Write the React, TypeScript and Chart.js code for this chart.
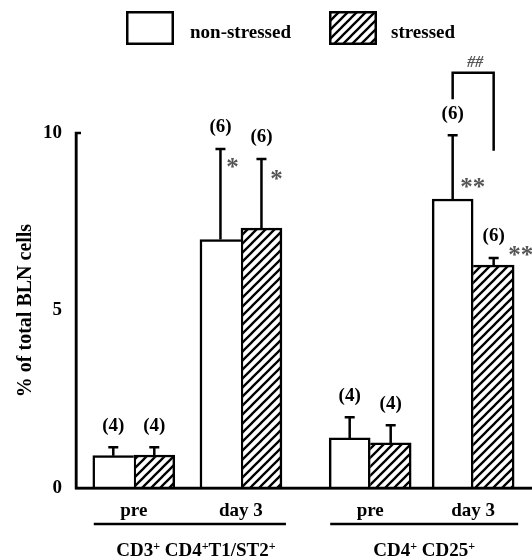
import React, { useEffect, useRef } from "react";
import { Chart, registerables } from "chart.js";

Chart.register(...registerables);

// ---- data ----
const seriesNames = ["non-stressed", "stressed"];
const timeLabels = ["pre", "day 3", "pre", "day 3"];
const groupLabels = ["CD3⁺ CD4⁺T1/ST2⁺", "CD4⁺ CD25⁺"];
const nonStressed = [0.91, 7.0, 1.41, 8.14];
const stressed = [0.93, 7.32, 1.27, 6.28];
const nonStressedErr = [0.24, 2.55, 0.58, 1.8];
const stressedErr = [0.22, 1.95, 0.5, 0.2];
const nonStressedN = ["(4)", "(6)", "(4)", "(6)"];
const stressedN = ["(4)", "(6)", "(4)", "(6)"];
const nonStressedSig = ["", "*", "", "**"];
const stressedSig = ["", "*", "", "**"];
const pairSig = "##";
const yTickValues = [0, 5, 10];
const yTitle = "% of total BLN cells";

// ---- layout ----
const xPositions = [1, 2.02, 3.25, 4.23];
const groupMembers = [
  [0, 1],
  [2, 3],
];
const FONT = '"Liberation Serif", "Times New Roman", serif';
const BW = 2.5;
const sigOffsets = [
  [null, { dx: 12, dy: 14 }, null, { dx: 20, dy: 48 }],
  [null, { dx: 15, dy: 16 }, null, { dx: 27, dy: -7 }],
];

function drawCentered(ctx: CanvasRenderingContext2D, text: string, cx: number, cy: number) {
  ctx.textAlign = "center";
  ctx.textBaseline = "alphabetic";
  const m = ctx.measureText(text);
  const asc = m.actualBoundingBoxAscent;
  const desc = m.actualBoundingBoxDescent;
  ctx.fillText(text, cx, cy + (asc - desc) / 2);
}

function drawRich(ctx: CanvasRenderingContext2D, text: string, cx: number, baseline: number) {
  const runs: { t: string; sup: boolean }[] = [];
  for (const ch of text) {
    const sup = ch === "⁺";
    const t = sup ? "+" : ch;
    const last = runs[runs.length - 1];
    if (last && last.sup === sup) last.t += t;
    else runs.push({ t, sup });
  }
  const normalFont = `bold 19px ${FONT}`;
  const supFont = `bold 12px ${FONT}`;
  let total = 0;
  for (const r of runs) {
    ctx.font = r.sup ? supFont : normalFont;
    total += ctx.measureText(r.t).width;
  }
  let x = cx - total / 2;
  ctx.textAlign = "left";
  ctx.textBaseline = "alphabetic";
  for (const r of runs) {
    ctx.font = r.sup ? supFont : normalFont;
    ctx.fillText(r.t, x, r.sup ? baseline - 6 : baseline);
    x += ctx.measureText(r.t).width;
  }
}

export default function App() {
  const ref = useRef<HTMLCanvasElement | null>(null);

  useEffect(() => {
    const canvas = ref.current;
    if (!canvas) return;
    const ctx0 = canvas.getContext("2d")!;
    const P = 9;
    const tile = document.createElement("canvas");
    tile.width = P;
    tile.height = P;
    const g = tile.getContext("2d")!;
    g.fillStyle = "#fff";
    g.fillRect(0, 0, P, P);
    g.strokeStyle = "#000";
    g.lineWidth = 2.3;
    g.beginPath();
    g.moveTo(-1, P + 1);
    g.lineTo(P + 1, -1);
    g.moveTo(-P / 2 - 1, P / 2 + 1);
    g.lineTo(P / 2 + 1, -P / 2 - 1);
    g.moveTo(P / 2 - 1, P * 1.5 + 1);
    g.lineTo(P * 1.5 + 1, P / 2 - 1);
    g.stroke();
    const hatch = ctx0.createPattern(tile, "repeat")!;

    const annot = {
      id: "annot",
      afterDatasetsDraw(chart: any) {
        const ctx: CanvasRenderingContext2D = chart.ctx;
        const ys = chart.scales.y;
        const area = chart.chartArea;
        ctx.save();
        ctx.strokeStyle = "#000";
        ctx.lineWidth = BW;
        ctx.lineCap = "butt";
        // axes
        ctx.beginPath();
        ctx.moveTo(area.left - BW / 2, area.bottom);
        ctx.lineTo(chart.width, area.bottom);
        ctx.moveTo(area.left, area.bottom);
        ctx.lineTo(area.left, area.top - BW / 2);
        ctx.moveTo(area.left - BW / 2, area.top);
        ctx.lineTo(area.left + 5, area.top);
        ctx.stroke();

        const vals = [nonStressed, stressed];
        const errs = [nonStressedErr, stressedErr];
        const ns = [nonStressedN, stressedN];
        const sigs = [nonStressedSig, stressedSig];
        for (let di = 0; di < 2; di++) {
          const meta = chart.getDatasetMeta(di);
          meta.data.forEach((bar: any, i: number) => {
            const x = bar.x;
            const yTop = bar.y;
            const yErr = ys.getPixelForValue(vals[di][i] + errs[di][i]);
            ctx.strokeStyle = "#000";
            ctx.lineWidth = BW;
            ctx.beginPath();
            ctx.moveTo(x, yTop);
            ctx.lineTo(x, yErr);
            ctx.moveTo(x - 5, yErr);
            ctx.lineTo(x + 5, yErr);
            ctx.stroke();
            ctx.fillStyle = "#000";
            ctx.font = `bold 19px ${FONT}`;
            drawCentered(ctx, ns[di][i], x, yErr - 21);
            const s = sigs[di][i];
            const off = sigOffsets[di][i];
            if (s && off) {
              ctx.fillStyle = "#555";
              ctx.font = `bold 25px ${FONT}`;
              drawCentered(ctx, s, x + off.dx, yErr + off.dy);
            }
          });
        }
        // bracket between the day-3 bars of the second group
        const x0 = chart.getDatasetMeta(0).data[3].x;
        const x1 = chart.getDatasetMeta(1).data[3].x;
        const yb = ys.getPixelForValue(11.7);
        const yl = ys.getPixelForValue(10.95);
        const yr = ys.getPixelForValue(9.5);
        ctx.strokeStyle = "#000";
        ctx.lineWidth = BW;
        ctx.beginPath();
        ctx.moveTo(x0, yl);
        ctx.lineTo(x0, yb);
        ctx.lineTo(x1, yb);
        ctx.lineTo(x1, yr);
        ctx.stroke();
        ctx.fillStyle = "#555";
        ctx.font = `italic bold 16px ${FONT}`;
        drawCentered(ctx, pairSig, (x0 + x1) / 2 + 2, yb - 11);
        ctx.restore();
      },
      afterDraw(chart: any) {
        const ctx: CanvasRenderingContext2D = chart.ctx;
        const xs = chart.scales.x;
        ctx.save();
        // legend
        const boxes = [
          { x: 126, fill: "#fff" as any, tx: 190 },
          { x: 329, fill: hatch as any, tx: 391 },
        ];
        boxes.forEach((b, i) => {
          ctx.fillStyle = b.fill;
          ctx.fillRect(b.x, 11, 48, 34);
          ctx.strokeStyle = "#000";
          ctx.lineWidth = BW;
          ctx.strokeRect(b.x + BW / 2, 11 + BW / 2, 48 - BW, 34 - BW);
          ctx.fillStyle = "#000";
          ctx.font = `bold 19px ${FONT}`;
          ctx.textAlign = "left";
          ctx.textBaseline = "alphabetic";
          ctx.fillText(seriesNames[i], b.tx, 38);
        });
        // group lines and labels
        groupMembers.forEach((mem, gi) => {
          const xa = xs.getPixelForValue(xPositions[mem[0]]) - 40;
          const xb = xs.getPixelForValue(xPositions[mem[mem.length - 1]]) + 45;
          ctx.strokeStyle = "#000";
          ctx.lineWidth = BW;
          ctx.beginPath();
          ctx.moveTo(xa, 524);
          ctx.lineTo(xb, 524);
          ctx.stroke();
          ctx.fillStyle = "#000";
          drawRich(ctx, groupLabels[gi], (xa + xb) / 2 + (gi === 0 ? 6 : 0), 556);
        });
        ctx.restore();
      },
    };

    const chart = new Chart(canvas, {
      type: "bar",
      data: {
        datasets: [
          {
            label: seriesNames[0],
            data: xPositions.map((x, i) => ({ x, y: nonStressed[i] })),
            backgroundColor: "#fff",
            borderColor: "#000",
            borderSkipped: "start",
            borderWidth: (c: any) => ({
              top: BW,
              left: BW,
              bottom: 0,
              right: nonStressed[c.dataIndex] >= stressed[c.dataIndex] ? BW : 0,
            }),
            barThickness: 41,
          } as any,
          {
            label: seriesNames[1],
            data: xPositions.map((x, i) => ({ x, y: stressed[i] })),
            backgroundColor: hatch as any,
            borderColor: "#000",
            borderSkipped: "start",
            borderWidth: (c: any) => ({
              top: BW,
              right: BW,
              bottom: 0,
              left: stressed[c.dataIndex] > nonStressed[c.dataIndex] ? BW : 0,
            }),
            barThickness: 41,
          } as any,
        ],
      },
      options: {
        animation: false,
        responsive: false,
        devicePixelRatio: 1,
        layout: { padding: { top: 133, left: 0, right: 0, bottom: 0 } },
        plugins: { legend: { display: false }, tooltip: { enabled: false } },
        scales: {
          x: {
            type: "linear",
            min: 0.45,
            max: 4.79,
            offset: false,
            grid: { display: false, drawTicks: false },
            border: { display: true, color: "#000", width: BW },
            afterBuildTicks: (s: any) => {
              s.ticks = xPositions.map((v) => ({ value: v }));
            },
            afterFit: (s: any) => {
              s.height = 72;
            },
            ticks: {
              autoSkip: false,
              maxRotation: 0,
              color: "#000",
              padding: 12,
              font: { family: FONT, size: 19, weight: "bold" },
              callback: (_v: any, i: number) => timeLabels[i],
            },
          },
          y: {
            min: 0,
            max: 10,
            grid: { display: false, drawTicks: false },
            border: { display: true, color: "#000", width: BW },
            afterBuildTicks: (s: any) => {
              s.ticks = yTickValues.map((v) => ({ value: v }));
            },
            afterFit: (s: any) => {
              s.width = 76;
            },
            ticks: {
              color: "#000",
              padding: 14,
              font: { family: FONT, size: 19, weight: "bold" },
            },
            title: {
              display: true,
              text: yTitle,
              color: "#000",
              padding: { top: 14, bottom: 0 },
              font: { family: FONT, size: 20, weight: "bold" },
            },
          },
        },
      } as any,
      plugins: [annot],
    });
    return () => chart.destroy();
  }, []);

  return (
    <div style={{ position: "fixed", left: 0, top: 0, width: 532, height: 560, background: "#fff" }}>
      <canvas ref={ref} width={532} height={560} style={{ display: "block" }} />
    </div>
  );
}
